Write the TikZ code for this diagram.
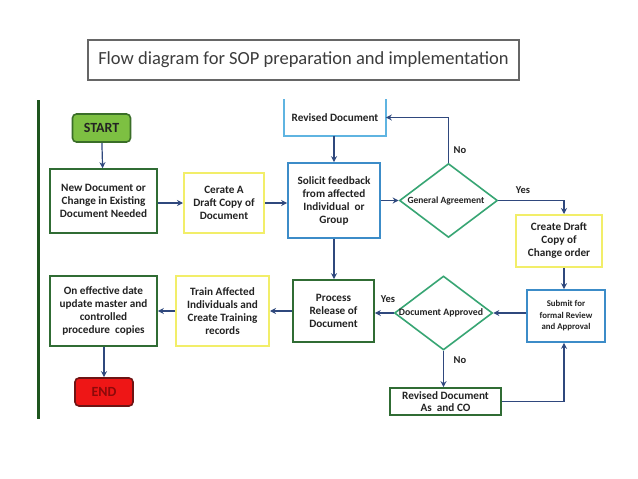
\documentclass[tikz,border=0pt]{standalone}
\usepackage{fontspec}
\setmainfont{Carlito}
\usetikzlibrary{shapes.geometric,arrows.meta}
\definecolor{arrowc}{RGB}{47,72,125}
\definecolor{dgreen}{RGB}{48,108,52}
\definecolor{bargreen}{RGB}{30,85,30}
\definecolor{yel}{RGB}{242,238,105}
\definecolor{lblue}{RGB}{95,180,225}
\definecolor{mblue}{RGB}{60,140,200}
\definecolor{tealg}{RGB}{55,165,115}
\definecolor{startfill}{RGB}{125,192,66}
\definecolor{startdraw}{RGB}{58,110,40}
\definecolor{endfill}{RGB}{238,22,22}
\definecolor{enddraw}{RGB}{110,20,20}
\definecolor{endtxt}{RGB}{140,10,10}
\definecolor{txt}{RGB}{35,35,35}
\definecolor{titletxt}{RGB}{60,60,60}
\tikzset{
  box/.style={draw, line width=1.6pt, fill=white, align=center, font=\bfseries\fontsize{11.2}{13}\selectfont, text=txt, inner sep=1pt},
  gbox/.style={box, draw=dgreen},
  ybox/.style={box, draw=yel, line width=2pt},
  bbox/.style={box, draw=mblue},
  dia/.style={draw=tealg, line width=1.6pt, diamond, minimum width=#1, minimum height=74pt, inner sep=0pt},
  dlbl/.style={font=\bfseries\fontsize{9.5}{11}\selectfont, text=txt},
  arr/.style={draw=arrowc, line width=1.2pt, -{Stealth[length=6pt,width=6pt]}},
  yn/.style={font=\bfseries\fontsize{10.5}{12}\selectfont, text=txt},
  term/.style={draw, rounded corners=4pt, line width=1.6pt, minimum width=58pt, minimum height=28pt, font=\bfseries\fontsize{14}{16}\selectfont}
}
\begin{document}
\begin{tikzpicture}[x=1pt,y=-1pt]
\useasboundingbox[fill=white] (0,0) rectangle (638,479);
% title
\node[draw=gray!80!black, line width=1.2pt, fill=white, minimum width=431pt, minimum height=40pt, font=\fontsize{18.5}{22}\selectfont, text=titletxt] (title) at (303.5,60) {Flow diagram for SOP preparation and implementation};
% left bar
\coordinate (bartop) at (38,100);
\coordinate (barbot) at (38,419);
\draw[line width=3pt, bargreen] (bartop) -- (barbot);
% nodes
\node[term, fill=startfill, draw=startdraw, text=txt] (start) at (101.5,128) {START};
\node[gbox, minimum width=107pt, minimum height=64pt] (newdoc) at (103.5,201) {New Document or\\Change in Existing\\Document Needed};
\node[ybox, minimum width=80pt, minimum height=60pt] (cerate) at (224,203) {Cerate A\\Draft Copy of\\Document};
\node[box, draw=none, fill=none, minimum width=100pt, minimum height=35pt] (rev) at (335,117.5) {Revised Document};
\draw[line width=1.6pt, lblue] (rev.north west) -- (rev.south west) -- (rev.south east) -- (rev.north east);
\node[bbox, minimum width=92pt, minimum height=75pt] (solicit) at (334,200.5) {Solicit feedback\\from affected\\Individual~ or\\Group};
\node[dia=98pt] (ga) at (448.5,200.5) {};
\node[dlbl] (galbl) at (446,200.5) {General Agreement};
\node[ybox, minimum width=86pt, minimum height=52pt] (create) at (559,241) {Create Draft\\Copy of\\Change order};
\node[bbox, minimum width=78pt, minimum height=52pt, font=\bfseries\fontsize{8.8}{11.5}\selectfont] (submit) at (566,316) {Submit for\\formal Review\\and Approval};
\node[dia=98pt] (da) at (443.5,313) {};
\node[dlbl, font=\bfseries\fontsize{9.8}{11}\selectfont] (dalbl) at (441,313) {Document Approved};
\node[gbox, minimum width=81pt, minimum height=62pt] (process) at (333.5,311) {Process\\Release of\\Document};
\node[ybox, minimum width=93pt, minimum height=70pt] (train) at (222.5,311) {Train Affected\\Individuals and\\Create Training\\records};
\node[gbox, minimum width=107pt, minimum height=70pt] (oneff) at (103.5,311) {On effective date\\update master and\\controlled\\procedure~ copies};
\node[term, fill=endfill, draw=enddraw, text=endtxt] (end) at (104,392) {END};
\node[gbox, minimum width=111pt, minimum height=27pt, font=\bfseries\fontsize{11.2}{12}\selectfont] (revco) at (445.5,401.5) {Revised Document\\As~ and CO};
\coordinate (xcol) at (564,0);
% connectors
\draw[arr] (start) -- (newdoc);
\draw[arr] (newdoc.east |- cerate.west) -- (cerate.west);
\draw[arr] (cerate.east) -- (cerate.east -| solicit.west);
\draw[arr] (rev.south -| solicit.north) -- (solicit.north);
\draw[arr] (solicit.east |- ga.west) -- (ga.west);
\draw[arr] (ga.north) |- (rev.east);
\draw[arr] (ga.east) -| (create.north -| xcol);
\draw[arr] (create.south -| xcol) -- (submit.north -| xcol);
\draw[arr] (submit.west |- da.east) -- (da.east);
\draw[arr] (da.west) -- (da.west -| process.east);
\draw[arr] (solicit.south) -- (process.north -| solicit.south);
\draw[arr] (process.west) -- (process.west -| train.east);
\draw[arr] (train.west) -- (oneff.east);
\draw[arr] (oneff.south -| end.north) -- (end.north);
\draw[arr] (da.south) -- (revco.north -| da.south);
\draw[arr] (revco.east) -| (submit.south -| xcol);
% labels
\node[yn] (no1) at (460,150) {No};
\node[yn] (yes1) at (523,190) {Yes};
\node[yn] (yes2) at (388,299) {Yes};
\node[yn] (no2) at (460,360) {No};
\end{tikzpicture}
\end{document}
